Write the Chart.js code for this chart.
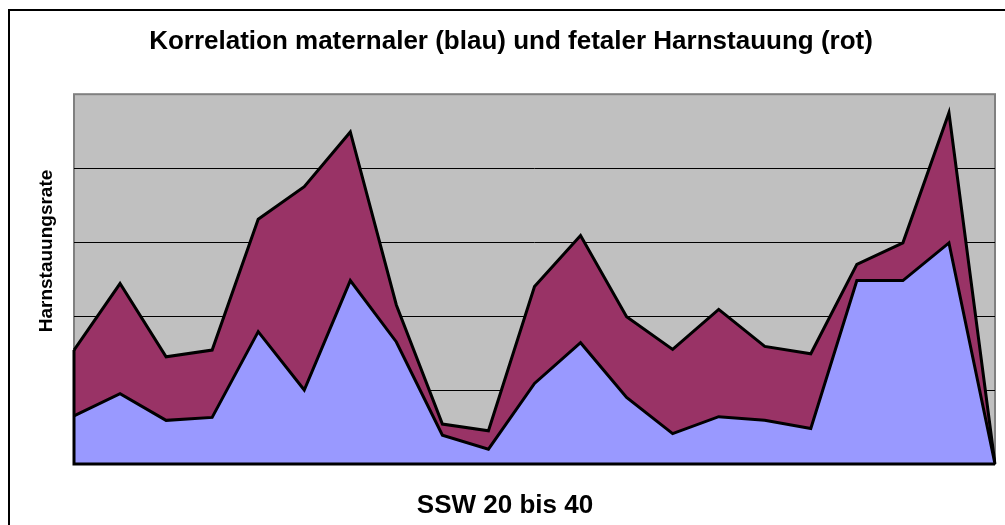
<!DOCTYPE html>
<html>
<head>
<meta charset="utf-8">
<script src="https://cdn.jsdelivr.net/npm/chart.js@4/dist/chart.umd.min.js"></script>
<style>
  html, body { margin: 0; padding: 0; background: #ffffff; }
  #wrap { width: 1005px; height: 525px; position: relative; }
</style>
</head>
<body>
<div id="wrap"><canvas id="c" width="1005" height="525"></canvas></div>
<script>
// Data
const weeks = ['20','21','22','23','24','25','26','27','28','29','30','31','32','33','34','35','36','37','38','39','40'];
const maternal = [6.5, 9.5, 5.9, 6.3, 17.9, 10.0, 24.8, 16.5, 3.9, 2.0, 10.9, 16.4, 9.0, 4.1, 6.4, 5.9, 4.8, 24.8, 24.8, 29.9, 0];
const fetal    = [8.9, 14.9, 8.6, 9.1, 15.2, 27.5, 20.1, 5.0, 1.5, 2.5, 13.1, 14.5, 10.9, 11.4, 14.5, 10.0, 10.1, 2.2, 5.1, 17.6, 0];
const yTicks = [0, 10, 20, 30, 40, 50];

const chartTitle = 'Korrelation maternaler (blau) und fetaler Harnstauung (rot)';
const xTitle = 'SSW 20 bis 40';
const yTitle = 'Harnstauungsrate';

const FONT = "'Liberation Sans', Arial, Helvetica, sans-serif";

const framePlugin = {
  id: 'frame',
  beforeDraw(chart) {
    const {ctx, chartArea: a} = chart;
    ctx.save();
    // outer chart border
    ctx.strokeStyle = '#000000';
    ctx.lineWidth = 2;
    ctx.strokeRect(9, 10, 1100, 600);
    // plot background
    ctx.fillStyle = '#C0C0C0';
    ctx.fillRect(a.left, a.top, a.right - a.left, a.bottom - a.top);
    ctx.strokeStyle = '#808080';
    ctx.lineWidth = 2;
    ctx.strokeRect(a.left, a.top, a.right - a.left, a.bottom - a.top);
    ctx.restore();
  },
  afterDatasetsDraw(chart) {
    const {ctx, scales} = chart;
    const x = scales.x, y = scales.y;
    ctx.save();
    ctx.strokeStyle = '#000000';
    ctx.lineWidth = 3;
    // closing edges of the stacked area polygon
    const n = weeks.length - 1;
    const x0 = x.getPixelForValue(0);
    const xn = x.getPixelForValue(n);
    const y0 = y.getPixelForValue(0);
    ctx.beginPath();
    ctx.moveTo(x0, y.getPixelForValue(maternal[0] + fetal[0]));
    ctx.lineTo(x0, y0);
    ctx.lineTo(xn, y0);
    ctx.lineTo(xn, y.getPixelForValue(maternal[n] + fetal[n]));
    ctx.stroke();
    // axis titles
    ctx.fillStyle = '#000000';
    ctx.textAlign = 'center';
    ctx.textBaseline = 'alphabetic';
    ctx.font = 'bold 26px ' + FONT;
    ctx.fillText(xTitle, 505, 513);
    ctx.font = 'bold 19px ' + FONT;
    ctx.translate(52, 251);
    ctx.rotate(-Math.PI / 2);
    ctx.fillText(yTitle, 0, 0);
    ctx.restore();
  }
};

new Chart(document.getElementById('c'), {
  type: 'line',
  data: {
    labels: weeks,
    datasets: [
      {
        label: 'maternal (blau)',
        data: maternal,
        backgroundColor: '#9999FF',
        borderColor: '#000000',
        borderWidth: 3,
        fill: 'origin',
        tension: 0,
        pointRadius: 0,
        pointHoverRadius: 0
      },
      {
        label: 'fetal (rot)',
        data: fetal,
        backgroundColor: '#993366',
        borderColor: '#000000',
        borderWidth: 3,
        fill: '-1',
        tension: 0,
        pointRadius: 0,
        pointHoverRadius: 0
      }
    ]
  },
  options: {
    responsive: false,
    animation: false,
    devicePixelRatio: 1,
    layout: { padding: { top: 0, left: 27, right: 10, bottom: 61 } },
    plugins: {
      legend: { display: false },
      tooltip: { enabled: false },
      title: {
        display: true,
        text: chartTitle,
        color: '#000000',
        font: { family: FONT, size: 26, weight: 'bold', lineHeight: 1.2 },
        padding: { top: 26, bottom: 37 }
      }
    },
    scales: {
      x: {
        type: 'category',
        offset: false,
        grid: { display: false, drawTicks: false },
        border: { display: false },
        ticks: { display: false }
      },
      y: {
        stacked: true,
        min: yTicks[0],
        max: yTicks[yTicks.length - 1],
        afterBuildTicks(scale) { scale.ticks = yTicks.map(v => ({ value: v })); },
        afterFit(scale) { scale.width = 47; },
        ticks: { display: false },
        grid: {
          drawTicks: false,
          lineWidth: 1,
          color: (c) => (c.tick && (c.tick.value === yTicks[0] || c.tick.value === yTicks[yTicks.length - 1])) ? 'rgba(0,0,0,0)' : '#000000'
        },
        border: { display: false }
      }
    }
  },
  plugins: [framePlugin]
});
</script>
</body>
</html>
